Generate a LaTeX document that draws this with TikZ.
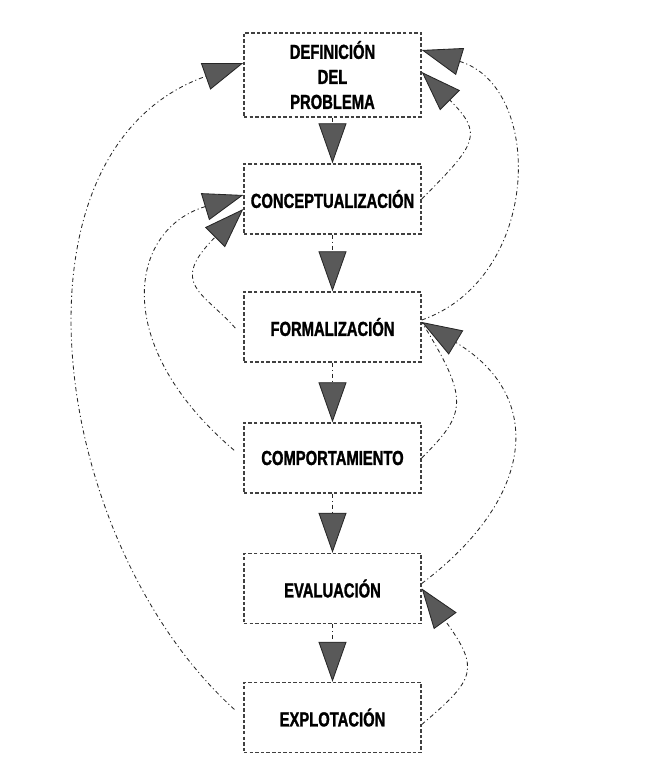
\documentclass[tikz,border=0pt]{standalone}
\usepackage{fontspec}
\newfontfamily\boxfont{Liberation Sans}[FakeStretch=0.73,BoldFeatures={FakeBold=1.3}]
\usetikzlibrary{arrows.meta}
\begin{document}
\begin{tikzpicture}[x=0.025cm,y=-0.025cm,
    stage/.style={draw=black!75,line width=1pt,dash pattern=on 2.5pt off 1.5pt,
      fill=white,minimum width=4.425cm,minimum height=1.75cm,inner sep=0pt,
      align=center,font=\boxfont\bfseries\fontsize{14.4}{17.8}\selectfont},
    link/.style={draw=black!85,line width=0.6pt,
      dash pattern=on 3pt off 2pt on 0.8pt off 2pt},
    flow/.style={link,-{Triangle[length=1cm,width=0.7cm,fill=black!65]}},
    back/.style={flow,shorten <=0.3cm}]
  \useasboundingbox (0,0) rectangle (646,771);
  \node[stage,minimum height=2.1cm] (defin) at (332.5,75) {DEFINICIÓN\\DEL\\PROBLEMA};
  \node[stage] (concep) at (332.5,199) {CONCEPTUALIZACIÓN};
  \node[stage] (formal) at (332.5,327) {FORMALIZACIÓN};
  \node[stage] (comport) at (332.5,458) {COMPORTAMIENTO};
  \node[stage] (evalua) at (332.5,588.5) {EVALUACIÓN};
  \node[stage] (explot) at (332.5,717.5) {EXPLOTACIÓN};
  % etapas en secuencia
  \draw[flow] (defin) -- (concep);
  \draw[flow] (concep) -- (formal);
  \draw[flow] (formal) -- (comport);
  \draw[flow] (comport) -- (evalua);
  \draw[flow] (evalua) -- (explot);
  % retornos por la izquierda
  \draw[back] (explot.west) .. controls +(-195,-177) and +(-245,87) .. ([yshift=0.3cm]defin.west);
  \draw[back] (comport.west) .. controls +(-133,-113) and +(-115,35) .. ([yshift=0.1cm]concep.west);
  \draw[back] ([yshift=-0.25cm]formal.west) .. controls +(-40,-45) and +(-75,75) .. ([yshift=-0.25cm]concep.west);
  % retornos por la derecha
  \draw[flow] (concep.east) .. controls +(55,-55) and +(62,62) .. ([yshift=0.075cm]defin.east);
  \draw[flow] ([yshift=0.175cm]formal.east) .. controls +(120,-42) and +(123,37) .. ([yshift=0.625cm]defin.east);
  \draw[flow] ([yshift=0.125cm]evalua.east) .. controls +(112,-84) and +(125,75) .. ([yshift=0.125cm]formal.east);
  \draw[link] (comport.east) .. controls +(45,-45) and +(48,78) .. ([yshift=0.125cm]formal.east);
  \draw[flow] ([yshift=-0.175cm]explot.east) .. controls +(53,-45) and +(59,81) .. (evalua.east);
\end{tikzpicture}
\end{document}
